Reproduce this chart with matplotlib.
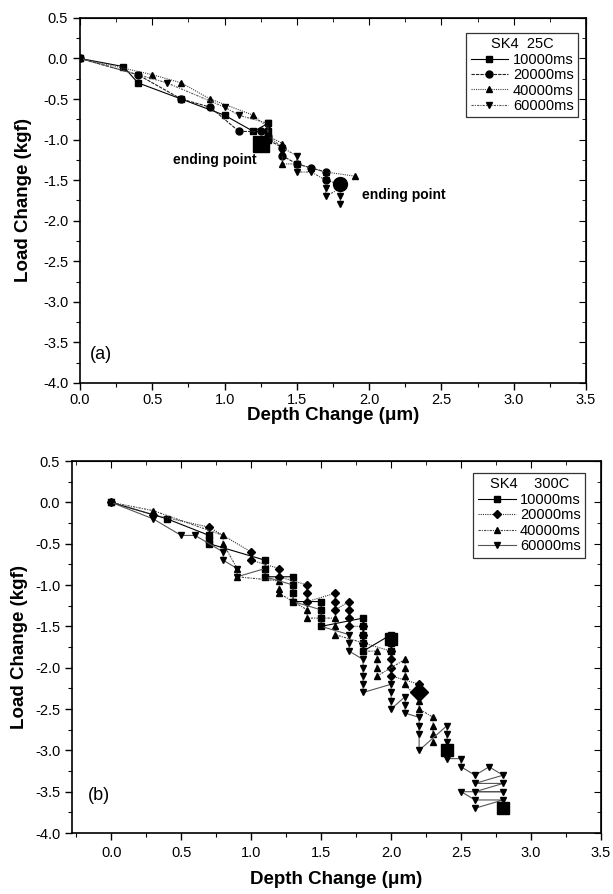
import matplotlib
matplotlib.use("Agg")
import matplotlib.pyplot as plt
from matplotlib.ticker import MultipleLocator

plt.rcParams['font.family'] = ['Liberation Sans', 'DejaVu Sans']

# ---- panel (a): SK4 25C ----
a_sq_x = [0.0, 0.3, 0.4, 0.7, 1.0, 1.2, 1.3, 1.3, 1.3, 1.25]
a_sq_y = [0.0, -0.1, -0.3, -0.5, -0.7, -0.9, -0.8, -0.9, -1.0, -1.05]
a_ci_x = [0.0, 0.4, 0.7, 0.9, 1.1, 1.25, 1.3, 1.3, 1.4, 1.4, 1.5, 1.6, 1.7, 1.7, 1.8]
a_ci_y = [0.0, -0.2, -0.5, -0.6, -0.9, -0.9, -0.95, -1.0, -1.1, -1.2, -1.3, -1.35, -1.4, -1.5, -1.55]
a_tr_x = [0.0, 0.5, 0.7, 0.9, 1.2, 1.3, 1.3, 1.4, 1.4, 1.4, 1.5, 1.6, 1.7, 1.9]
a_tr_y = [0.0, -0.2, -0.3, -0.5, -0.7, -0.85, -0.95, -1.05, -1.15, -1.3, -1.3, -1.35, -1.4, -1.45]
a_dn_x = [0.0, 0.4, 0.6, 1.0, 1.1, 1.3, 1.3, 1.4, 1.5, 1.5, 1.5, 1.6, 1.7, 1.7, 1.7, 1.8, 1.8, 1.8]
a_dn_y = [0.0, -0.2, -0.3, -0.6, -0.7, -0.8, -0.95, -1.1, -1.2, -1.3, -1.4, -1.4, -1.5, -1.6, -1.7, -1.6, -1.7, -1.8]
a_end_sq = (1.25, -1.05)
a_end_ci = (1.8, -1.55)

# ---- panel (b): SK4 300C ----
b_sq_x = [0.0, 0.4, 0.7, 0.7, 0.7, 1.1, 1.1, 1.1, 1.3, 1.3, 1.3, 1.3, 1.5, 1.5, 1.5, 1.5,
          1.8, 1.8, 1.8, 1.8, 1.8, 2.0, 2.0, 2.0]
b_sq_y = [0.0, -0.2, -0.4, -0.45, -0.5, -0.7, -0.8, -0.9, -0.9, -1.0, -1.1, -1.2, -1.2, -1.3, -1.4, -1.5,
          -1.4, -1.5, -1.6, -1.7, -1.8, -1.6, -1.7, -1.8]
b_di_x = [0.0, 0.3, 0.7, 1.0, 1.0, 1.2, 1.2, 1.4, 1.4, 1.4, 1.6, 1.6, 1.6, 1.7, 1.7, 1.7, 1.7,
          1.8, 1.8, 1.8, 2.0, 2.0, 2.0, 2.0, 2.2, 2.2]
b_di_y = [0.0, -0.15, -0.3, -0.6, -0.7, -0.8, -0.9, -1.0, -1.1, -1.2, -1.1, -1.2, -1.3, -1.2, -1.3, -1.4, -1.5,
          -1.5, -1.6, -1.7, -1.8, -1.9, -2.0, -2.1, -2.2, -2.3]
b_tr_x = [0.0, 0.3, 0.8, 0.8, 0.9, 0.9, 1.2, 1.2, 1.2, 1.4, 1.4, 1.6, 1.6, 1.6, 1.8, 1.8,
          1.9, 1.9, 1.9, 1.9, 2.1, 2.1, 2.1, 2.1, 2.2, 2.2, 2.3, 2.3, 2.3, 2.3]
b_tr_y = [0.0, -0.1, -0.4, -0.5, -0.8, -0.9, -0.95, -1.05, -1.1, -1.3, -1.4, -1.4, -1.5, -1.6, -1.7, -1.8,
          -1.8, -1.9, -2.0, -2.1, -1.9, -2.0, -2.1, -2.2, -2.4, -2.5, -2.6, -2.7, -2.8, -2.9]
b_dn_x = [0.0, 0.3, 0.5, 0.6, 0.8, 0.8, 0.9, 0.9, 1.1, 1.1, 1.3, 1.3, 1.3, 1.5, 1.5, 1.5,
          1.7, 1.7, 1.7, 1.8, 1.8, 1.8, 1.8, 1.8, 2.0, 2.0, 2.0, 2.0, 2.1, 2.1, 2.1,
          2.2, 2.2, 2.2, 2.2, 2.4, 2.4, 2.4, 2.4, 2.5, 2.5,
          2.6, 2.7, 2.8, 2.6, 2.8, 2.6, 2.8, 2.5, 2.6, 2.8, 2.6]
b_dn_y = [0.0, -0.2, -0.4, -0.4, -0.6, -0.7, -0.8, -0.9, -0.8, -0.9, -1.0, -1.1, -1.2, -1.3, -1.4, -1.5,
          -1.6, -1.7, -1.8, -1.9, -2.0, -2.1, -2.2, -2.3, -2.2, -2.3, -2.4, -2.5, -2.35, -2.45, -2.55,
          -2.6, -2.7, -2.8, -3.0, -2.7, -2.8, -2.9, -3.1, -3.1, -3.2,
          -3.3, -3.2, -3.3, -3.4, -3.4, -3.5, -3.5, -3.5, -3.6, -3.6, -3.7]
b_end_sq = [(2.0, -1.65), (2.4, -3.0), (2.8, -3.7)]
b_end_di = (2.2, -2.3)

labels = ['10000ms', '20000ms', '40000ms', '60000ms']


def style_axes(ax, xlim, tickpad, xlabelpad, ylabelpad):
    ax.set_xlim(*xlim)
    ax.set_ylim(-4.0, 0.5)
    ax.xaxis.set_major_locator(MultipleLocator(0.5))
    ax.xaxis.set_minor_locator(MultipleLocator(0.25))
    ax.yaxis.set_major_locator(MultipleLocator(0.5))
    ax.yaxis.set_minor_locator(MultipleLocator(0.25))
    ax.xaxis.set_major_formatter(plt.FuncFormatter(lambda v, p: f"{v:.1f}"))
    ax.yaxis.set_major_formatter(plt.FuncFormatter(lambda v, p: f"{v:.1f}"))
    ax.tick_params(which='major', direction='out', length=5, width=1, labelsize=10.5)
    ax.tick_params(which='minor', direction='out', length=3, width=0.8)
    ax.tick_params(axis='x', pad=tickpad)
    for s in ax.spines.values():
        s.set_linewidth(1.2)
    top = ax.secondary_xaxis('top')
    top.xaxis.set_major_locator(MultipleLocator(0.5))
    top.xaxis.set_minor_locator(MultipleLocator(0.25))
    top.tick_params(which='major', direction='in', length=5, labeltop=False)
    top.tick_params(which='minor', direction='in', length=3, labeltop=False)
    right = ax.secondary_yaxis('right')
    right.yaxis.set_major_locator(MultipleLocator(0.5))
    right.yaxis.set_minor_locator(MultipleLocator(0.25))
    right.tick_params(which='major', direction='in', length=5, labelright=False)
    right.tick_params(which='minor', direction='in', length=3, labelright=False)
    ax.set_xlabel('Depth Change (\u03bcm)', fontsize=13.5, fontweight='bold', labelpad=xlabelpad)
    ax.set_ylabel('Load Change (kgf)', fontsize=13.5, fontweight='bold', labelpad=ylabelpad)


def series(ax, x, y, ls, color, marker, ms, label):
    ax.plot(x, y, color=color, lw=0.8, ls=ls, marker=marker, ms=ms,
            mfc='black', mec='black', label=label)


fig = plt.figure(figsize=(6.13, 8.94), dpi=100)
ax1 = fig.add_axes([0.1305, 0.5716, 0.8255, 0.4084])
ax2 = fig.add_axes([0.1175, 0.0682, 0.8630, 0.4161])

# panel (a)
ms = 5
series(ax1, a_sq_x, a_sq_y, '-', 'black', 's', ms, labels[0])
series(ax1, a_ci_x, a_ci_y, (0, (3, 1)), '#222222', 'o', ms, labels[1])
series(ax1, a_tr_x, a_tr_y, (0, (1, 1)), '#444444', '^', ms, labels[2])
series(ax1, a_dn_x, a_dn_y, (0, (2, 1, 1, 1)), '#555555', 'v', ms, labels[3])
ax1.plot(*a_end_sq, 's', color='black', ms=11)
ax1.plot(*a_end_ci, 'o', color='black', ms=10)
style_axes(ax1, (0.0, 3.5), tickpad=2, xlabelpad=0, ylabelpad=8)
leg1 = ax1.legend(loc='upper right', bbox_to_anchor=(0.984, 0.959), title='SK4  25C',
                  fontsize=10.5, title_fontsize=10.5, frameon=True, fancybox=False,
                  edgecolor='black', handlelength=2.6, handletextpad=0.3, labelspacing=0.1,
                  borderpad=0.3, borderaxespad=0)
leg1.get_frame().set_linewidth(0.9)
ax1.text(0.64, -1.25, 'ending point', fontsize=10, fontweight='bold', va='center')
ax1.text(1.95, -1.68, 'ending point', fontsize=10, fontweight='bold', va='center')
ax1.text(0.07, -3.65, '(a)', fontsize=13, va='center')

# panel (b)
ms = 4.5
series(ax2, b_sq_x, b_sq_y, '-', 'black', 's', ms, labels[0])
series(ax2, b_di_x, b_di_y, (0, (1, 1)), '#333333', 'D', ms - 0.5, labels[1])
series(ax2, b_tr_x, b_tr_y, (0, (2, 1, 1, 1)), '#444444', '^', ms, labels[2])
series(ax2, b_dn_x, b_dn_y, '-', '#555555', 'v', ms, labels[3])
for ex, ey in b_end_sq:
    ax2.plot(ex, ey, 's', color='black', ms=9)
ax2.plot(*b_end_di, 'D', color='black', ms=9)
style_axes(ax2, (-0.28, 3.5), tickpad=4, xlabelpad=8, ylabelpad=5)
leg2 = ax2.legend(loc='upper right', bbox_to_anchor=(0.970, 0.968), title='SK4    300C',
                  fontsize=10.5, title_fontsize=10.5, frameon=True, fancybox=False,
                  edgecolor='black', handlelength=2.6, handletextpad=0.3, labelspacing=0.1,
                  borderpad=0.3, borderaxespad=0)
leg2.get_frame().set_linewidth(0.9)
ax2.text(-0.17, -3.55, '(b)', fontsize=13, va='center')

fig.savefig('out.png', dpi=100)
